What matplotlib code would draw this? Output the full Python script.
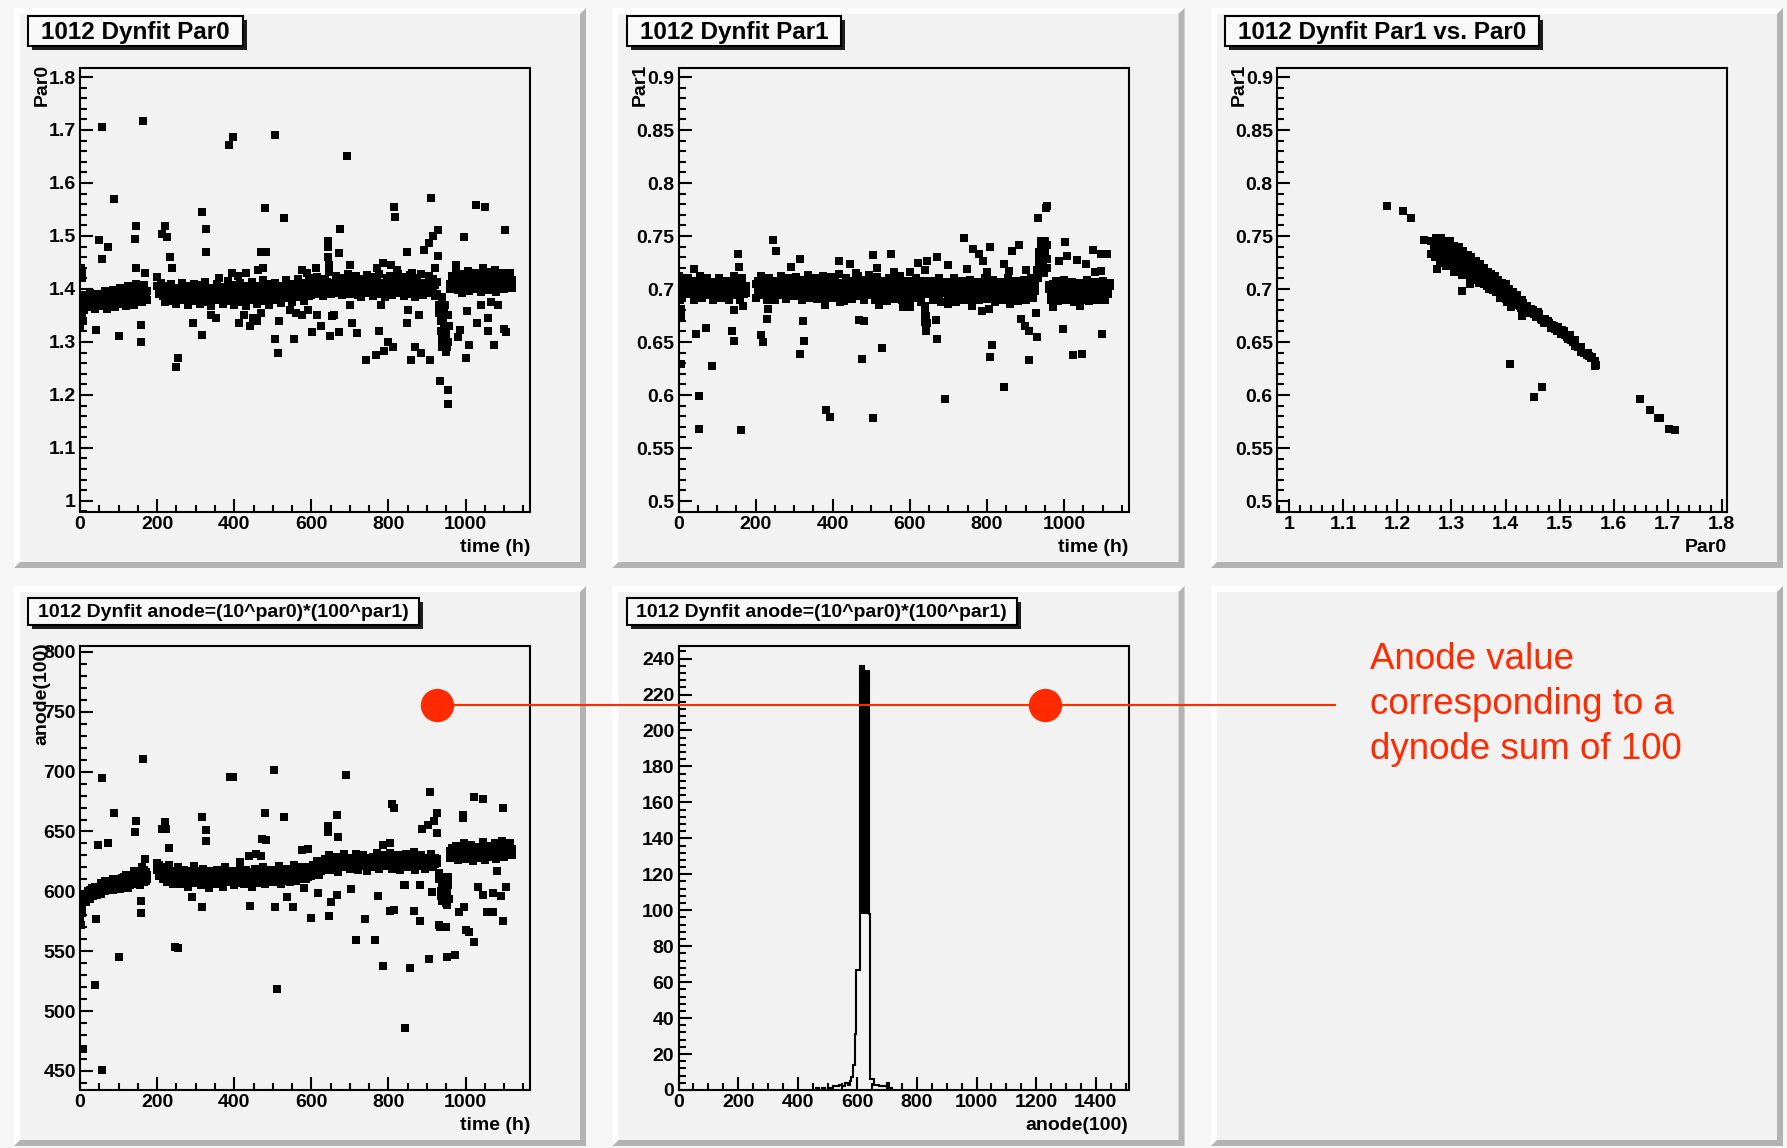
import numpy as np
import matplotlib
matplotlib.use("Agg")
import matplotlib.pyplot as plt
from matplotlib.patches import Rectangle, Polygon
from matplotlib.lines import Line2D
from matplotlib.ticker import MultipleLocator

# ------------------------------------------------------------------ data
# measurement times of the dense band (h) shared by the three time plots
hours_band = [
    0, 5, 10, 15, 20, 25, 30, 35, 40, 45,
    50, 55, 60, 65, 70, 75, 80, 85, 90, 95,
    100, 105, 110, 115, 120, 125, 130, 135, 140, 145,
    150, 155, 160, 165, 170, 175,
    200, 205, 210, 215, 220, 225, 230, 235, 240, 245,
    250, 255, 260, 265, 270, 275, 280, 285, 290, 295,
    300, 305, 310, 315, 320, 325, 330, 335, 340, 345,
    350, 355, 360, 365, 370, 375, 380, 385, 390, 395,
    400, 405, 410, 415, 420, 425, 430, 435, 440, 445,
    450, 455, 460, 465, 470, 475, 480, 485, 490, 495,
    500, 505, 510, 515, 520, 525, 530, 535, 540, 545,
    550, 555, 560, 565, 570, 575, 580, 585, 590, 595,
    600, 605, 610, 615, 620, 625, 630, 635, 640, 645,
    650, 655, 660, 665, 670, 675, 680, 685, 690, 695,
    700, 705, 710, 715, 720, 725, 730, 735, 740, 745,
    750, 755, 760, 765, 770, 775, 780, 785, 790, 795,
    800, 805, 810, 815, 820, 825, 830, 835, 840, 845,
    850, 855, 860, 865, 870, 875, 880, 885, 890, 895,
    900, 905, 910, 915, 920, 925, 930, 935, 940, 945,
    950, 955, 960, 965, 970, 975, 980, 985, 990, 995,
    1000, 1005, 1010, 1015, 1020, 1025, 1030, 1035, 1040, 1045,
    1050, 1055, 1060, 1065, 1070, 1075, 1080, 1085, 1090, 1095,
    1100, 1105, 1110, 1115, 1120]

# two fits per time slot (two channels of the band)
par0_band = [
    1.345, 1.42, 1.36, 1.385, 1.365, 1.392, 1.372, 1.38, 1.362, 1.39,
    1.368, 1.386, 1.372, 1.396, 1.362, 1.382, 1.376, 1.398, 1.366, 1.388,
    1.372, 1.402, 1.376, 1.39, 1.368, 1.405, 1.38, 1.396, 1.37, 1.41,
    1.385, 1.40, 1.375, 1.408, 1.38, 1.396,
    1.422, 1.398, 1.412, 1.40, 1.376, 1.405, 1.385, 1.41, 1.378, 1.395,
    1.372, 1.402, 1.39, 1.412, 1.38, 1.398, 1.37, 1.405, 1.388, 1.41,
    1.378, 1.398, 1.372, 1.408, 1.385, 1.414, 1.376, 1.396, 1.368, 1.402,
    1.386, 1.41, 1.38, 1.396, 1.372, 1.404, 1.39, 1.415, 1.378, 1.40,
    1.37, 1.408, 1.386, 1.412, 1.376, 1.398, 1.368, 1.405, 1.39, 1.414,
    1.38, 1.398, 1.372, 1.406, 1.388, 1.416, 1.378, 1.40, 1.37, 1.41,
    1.385, 1.412, 1.38, 1.398, 1.374, 1.405, 1.392, 1.416, 1.382, 1.402,
    1.376, 1.41, 1.39, 1.418, 1.384, 1.404, 1.378, 1.412, 1.394, 1.42,
    1.388, 1.415, 1.398, 1.422, 1.39, 1.41, 1.386, 1.418, 1.40, 1.432,
    1.39, 1.412, 1.398, 1.425, 1.392, 1.415, 1.388, 1.42, 1.40, 1.428,
    1.39, 1.414, 1.396, 1.424, 1.388, 1.41, 1.384, 1.418, 1.40, 1.426,
    1.392, 1.416, 1.386, 1.422, 1.398, 1.428, 1.39, 1.412, 1.384, 1.42,
    1.395, 1.424, 1.388, 1.414, 1.40, 1.428, 1.392, 1.418, 1.386, 1.422,
    1.398, 1.426, 1.39, 1.415, 1.384, 1.42, 1.396, 1.428, 1.388, 1.412,
    1.40, 1.424, 1.392, 1.418, 1.386, 1.414, 1.37, 1.34, 1.305, 1.33,
    1.295, 1.35, 1.40, 1.425, 1.405, 1.432, 1.398, 1.418, 1.392, 1.428,
    1.406, 1.434, 1.396, 1.42, 1.41, 1.43, 1.40, 1.424, 1.394, 1.416,
    1.404, 1.432, 1.398, 1.426, 1.41, 1.435, 1.395, 1.42, 1.405, 1.43,
    1.40, 1.425, 1.41, 1.43, 1.402]
par0_band2 = [
    1.385, 1.368, 1.388, 1.37, 1.384, 1.366, 1.386, 1.372, 1.382, 1.368,
    1.388, 1.372, 1.386, 1.374, 1.39, 1.37, 1.388, 1.376, 1.384, 1.372,
    1.392, 1.378, 1.394, 1.38, 1.39, 1.376, 1.396, 1.382, 1.392, 1.378,
    1.396, 1.382, 1.398, 1.384, 1.394, 1.38,
    1.405, 1.39, 1.402, 1.386, 1.396, 1.382, 1.398, 1.388, 1.40, 1.384,
    1.396, 1.38, 1.40, 1.386, 1.398, 1.382, 1.394, 1.384, 1.40, 1.38,
    1.398, 1.384, 1.396, 1.38, 1.40, 1.386, 1.394, 1.382, 1.398, 1.384,
    1.396, 1.382, 1.40, 1.384, 1.398, 1.38, 1.402, 1.386, 1.396, 1.382,
    1.40, 1.384, 1.396, 1.382, 1.398, 1.386, 1.40, 1.38, 1.402, 1.384,
    1.396, 1.382, 1.40, 1.386, 1.398, 1.384, 1.402, 1.38, 1.398, 1.386,
    1.398, 1.384, 1.402, 1.386, 1.396, 1.382, 1.40, 1.388, 1.398, 1.384,
    1.40, 1.386, 1.404, 1.388, 1.398, 1.384, 1.402, 1.39, 1.404, 1.386,
    1.41, 1.396, 1.412, 1.398, 1.408, 1.394, 1.41, 1.40, 1.414, 1.398,
    1.412, 1.398, 1.41, 1.396, 1.414, 1.40, 1.412, 1.396, 1.41, 1.398,
    1.41, 1.396, 1.412, 1.40, 1.408, 1.394, 1.412, 1.398, 1.41, 1.396,
    1.412, 1.398, 1.41, 1.394, 1.414, 1.40, 1.41, 1.396, 1.412, 1.40,
    1.41, 1.396, 1.414, 1.40, 1.412, 1.398, 1.41, 1.394, 1.414, 1.40,
    1.412, 1.396, 1.41, 1.40, 1.414, 1.398, 1.41, 1.396, 1.412, 1.40,
    1.41, 1.398, 1.412, 1.396, 1.408, 1.39, 1.355, 1.32, 1.29, 1.36,
    1.32, 1.30, 1.41, 1.402, 1.418, 1.404, 1.416, 1.40, 1.418, 1.406,
    1.418, 1.402, 1.42, 1.406, 1.416, 1.40, 1.42, 1.404, 1.418, 1.402,
    1.42, 1.404, 1.416, 1.40, 1.422, 1.406, 1.418, 1.402, 1.42, 1.404,
    1.418, 1.402, 1.42, 1.405, 1.416]

par1_band = [
    0.70, 0.71, 0.692, 0.706, 0.695, 0.71, 0.698, 0.704, 0.69, 0.708,
    0.696, 0.712, 0.692, 0.702, 0.698, 0.71, 0.694, 0.706, 0.69, 0.704,
    0.698, 0.71, 0.692, 0.705, 0.696, 0.708, 0.69, 0.702, 0.694, 0.712,
    0.698, 0.706, 0.69, 0.71, 0.695, 0.703,
    0.692, 0.708, 0.698, 0.712, 0.694, 0.704, 0.69, 0.71, 0.696, 0.706,
    0.69, 0.708, 0.698, 0.712, 0.694, 0.703, 0.691, 0.71, 0.699, 0.705,
    0.693, 0.711, 0.697, 0.706, 0.69, 0.709, 0.695, 0.713, 0.692, 0.704,
    0.698, 0.71, 0.691, 0.707, 0.695, 0.712, 0.69, 0.704, 0.697, 0.711,
    0.692, 0.709, 0.698, 0.714, 0.694, 0.705, 0.689, 0.71, 0.696, 0.707,
    0.691, 0.708, 0.697, 0.712, 0.693, 0.704, 0.69, 0.709, 0.698, 0.713,
    0.694, 0.706, 0.69, 0.711, 0.697, 0.708, 0.692, 0.703, 0.689, 0.71,
    0.695, 0.709, 0.691, 0.705, 0.698, 0.712, 0.69, 0.704, 0.694, 0.708,
    0.69, 0.706, 0.696, 0.71, 0.692, 0.703, 0.688, 0.708, 0.684, 0.695,
    0.696, 0.708, 0.69, 0.704, 0.694, 0.71, 0.688, 0.703, 0.697, 0.707,
    0.69, 0.705, 0.695, 0.71, 0.688, 0.702, 0.693, 0.708, 0.69, 0.704,
    0.696, 0.709, 0.689, 0.703, 0.694, 0.707, 0.69, 0.705, 0.697, 0.71,
    0.691, 0.704, 0.695, 0.709, 0.688, 0.703, 0.693, 0.707, 0.69, 0.705,
    0.697, 0.71, 0.69, 0.704, 0.694, 0.708, 0.689, 0.703, 0.696, 0.709,
    0.69, 0.705, 0.695, 0.71, 0.692, 0.706, 0.712, 0.725, 0.738, 0.73,
    0.745, 0.72, 0.70, 0.69, 0.705, 0.694, 0.708, 0.689, 0.703, 0.697,
    0.709, 0.69, 0.704, 0.695, 0.707, 0.688, 0.702, 0.693, 0.706, 0.69,
    0.704, 0.696, 0.709, 0.689, 0.703, 0.694, 0.707, 0.69, 0.705, 0.697,
    0.708, 0.69, 0.703, 0.695, 0.706]
par1_band2 = [
    0.705, 0.697, 0.707, 0.698, 0.704, 0.696, 0.706, 0.699, 0.703, 0.697,
    0.704, 0.697, 0.706, 0.698, 0.703, 0.696, 0.705, 0.699, 0.707, 0.697,
    0.705, 0.698, 0.703, 0.696, 0.706, 0.699, 0.704, 0.697, 0.706, 0.698,
    0.704, 0.697, 0.706, 0.698, 0.703, 0.696,
    0.705, 0.697, 0.706, 0.699, 0.704, 0.696, 0.707, 0.698, 0.703, 0.697,
    0.704, 0.698, 0.706, 0.697, 0.705, 0.696, 0.707, 0.699, 0.703, 0.697,
    0.705, 0.698, 0.704, 0.697, 0.706, 0.699, 0.703, 0.696, 0.707, 0.698,
    0.704, 0.697, 0.706, 0.698, 0.705, 0.696, 0.704, 0.699, 0.706, 0.697,
    0.705, 0.698, 0.703, 0.697, 0.706, 0.699, 0.704, 0.696, 0.705, 0.698,
    0.706, 0.697, 0.704, 0.698, 0.705, 0.696, 0.707, 0.699, 0.703, 0.697,
    0.704, 0.698, 0.706, 0.697, 0.705, 0.699, 0.703, 0.696, 0.706, 0.698,
    0.705, 0.697, 0.704, 0.698, 0.706, 0.696, 0.705, 0.699, 0.703, 0.697,
    0.704, 0.696, 0.705, 0.697, 0.703, 0.695, 0.706, 0.698, 0.676, 0.668,
    0.703, 0.696, 0.705, 0.697, 0.704, 0.695, 0.706, 0.698, 0.703, 0.696,
    0.704, 0.697, 0.703, 0.695, 0.705, 0.698, 0.704, 0.696, 0.703, 0.697,
    0.705, 0.696, 0.704, 0.697, 0.703, 0.695, 0.706, 0.698, 0.704, 0.696,
    0.703, 0.697, 0.705, 0.696, 0.704, 0.698, 0.703, 0.695, 0.705, 0.697,
    0.704, 0.696, 0.703, 0.697, 0.705, 0.695, 0.704, 0.698, 0.703, 0.696,
    0.705, 0.697, 0.704, 0.696, 0.703, 0.698, 0.718, 0.73, 0.744, 0.722,
    0.735, 0.728, 0.704, 0.697, 0.703, 0.695, 0.705, 0.698, 0.704, 0.696,
    0.703, 0.697, 0.705, 0.696, 0.704, 0.698, 0.703, 0.695, 0.705, 0.697,
    0.704, 0.696, 0.703, 0.697, 0.705, 0.695, 0.704, 0.698, 0.703, 0.696,
    0.705, 0.697, 0.704, 0.696, 0.703]

anode_band = [
    578, 592, 598, 591, 600, 594, 603, 596, 601, 597,
    604, 598, 606, 600, 609, 602, 607, 601, 610, 604,
    608, 602, 611, 605, 614, 603, 612, 607, 617, 606,
    613, 605, 620, 608, 616, 610,
    624, 613, 620, 610, 617, 608, 622, 612, 606, 616,
    610, 620, 606, 614, 618, 609, 604, 616, 611, 621,
    607, 615, 612, 605, 619, 609, 614, 603, 617, 610,
    606, 618, 611, 614, 604, 620, 608, 613, 610, 617,
    605, 615, 609, 621, 612, 606, 618, 610, 614, 604,
    612, 619, 607, 615, 610, 620, 606, 616, 611, 613,
    608, 617, 612, 621, 606, 614, 610, 619, 613, 608,
    615, 622, 609, 618, 612, 620, 614, 610, 619, 616,
    613, 622, 617, 625, 614, 621, 618, 627, 620, 630,
    618, 626, 621, 629, 616, 624, 620, 631, 622, 627,
    619, 628, 623, 631, 618, 625, 621, 630, 624, 617,
    626, 620, 629, 622, 632, 619, 627, 623, 630, 621,
    625, 632, 619, 627, 622, 630, 618, 626, 623, 631,
    620, 628, 624, 633, 618, 626, 621, 630, 625, 619,
    627, 622, 631, 620, 628, 624, 615, 600, 592, 610,
    590, 605, 628, 636, 630, 638, 626, 634, 629, 640,
    627, 635, 631, 639, 625, 633, 628, 637, 630, 641,
    626, 634, 629, 638, 632, 640, 627, 636, 631, 642,
    629, 637, 633, 640, 630]
anode_band2 = [
    586, 582, 593, 597, 596, 601, 598, 600, 604, 600,
    600, 607, 603, 609, 601, 606, 604, 610, 603, 608,
    604, 610, 606, 612, 608, 614, 605, 611, 609, 615,
    607, 616, 611, 618, 609, 614,
    618, 622, 614, 619, 612, 620, 610, 617, 613, 609,
    616, 610, 618, 612, 609, 615, 613, 610, 617, 608,
    613, 609, 617, 611, 608, 615, 610, 616, 609, 613,
    614, 609, 615, 607, 613, 610, 616, 609, 615, 611,
    612, 608, 616, 610, 607, 614, 611, 616, 608, 613,
    609, 614, 612, 610, 616, 608, 613, 610, 614, 618,
    614, 610, 616, 611, 613, 618, 609, 614, 610, 616,
    611, 616, 614, 612, 617, 610, 618, 614, 612, 620,
    618, 614, 620, 616, 621, 617, 622, 619, 624, 621,
    622, 620, 625, 623, 627, 621, 626, 624, 627, 623,
    624, 622, 627, 625, 623, 628, 626, 622, 628, 624,
    623, 627, 625, 628, 624, 626, 622, 628, 625, 627,
    628, 623, 626, 624, 628, 622, 627, 625, 628, 624,
    626, 623, 628, 625, 627, 622, 628, 624, 627, 624,
    624, 628, 625, 626, 623, 627, 610, 596, 605, 598,
    600, 612, 634, 630, 636, 631, 634, 629, 636, 632,
    633, 629, 636, 632, 635, 630, 634, 631, 636, 633,
    633, 630, 636, 632, 635, 631, 637, 633, 636, 634,
    634, 631, 636, 632, 635]

# scattered points (off the band) for Par0 vs time
par0_out_t = [1, 2, 3, 4, 6, 7, 8,
              56, 163, 89, 48, 72, 56, 144, 142, 146, 168, 42, 102, 158, 158,
              213, 225, 221, 233, 238, 248, 254, 317, 327, 327, 292, 317,
              386, 396, 506, 480, 530, 470, 483, 506, 516, 514, 554,
              693, 673, 671, 644, 644, 642, 646, 601, 624, 648, 671, 653, 706, 718,
              741, 767, 776, 789, 787, 807, 814, 817, 800, 812, 847, 859, 868, 847, 884, 908,
              891, 904, 916, 928, 911, 928, 934, 955, 955, 950, 985, 980, 975, 997, 1003, 1010, 1000,
              1027, 1050, 1030, 1059, 1074, 1059, 1102, 1099, 1106,
              932, 936, 938, 941, 943, 946, 948, 951, 953, 957,
              340, 352, 412, 425, 440, 448, 460, 470, 545, 560, 575, 590, 615, 660, 700, 780,
              850, 880, 1040, 1065, 1085,
              360, 395, 410, 430, 462, 474, 575, 588, 612, 700, 770, 822, 862, 920, 1045]
par0_out_v = [1.33, 1.36, 1.44, 1.35, 1.43, 1.38, 1.34,
              1.706, 1.717, 1.569, 1.492, 1.48, 1.457, 1.518, 1.494, 1.44, 1.431, 1.323, 1.311, 1.332, 1.30,
              1.503, 1.498, 1.518, 1.46, 1.44, 1.253, 1.27, 1.546, 1.514, 1.47, 1.335, 1.314,
              1.672, 1.686, 1.69, 1.553, 1.534, 1.47, 1.47, 1.306, 1.34, 1.279, 1.305,
              1.651, 1.514, 1.468, 1.49, 1.479, 1.46, 1.445, 1.318, 1.33, 1.312, 1.318, 1.349, 1.336, 1.316,
              1.266, 1.275, 1.32, 1.282, 1.449, 1.445, 1.555, 1.535, 1.30, 1.29, 1.47, 1.265, 1.29, 1.336, 1.279, 1.266,
              1.473, 1.487, 1.50, 1.512, 1.571, 1.462, 1.227, 1.21, 1.183, 1.281, 1.323, 1.309, 1.445, 1.498, 1.359, 1.294, 1.27,
              1.558, 1.554, 1.336, 1.32, 1.294, 1.345, 1.512, 1.325, 1.318,
              1.36, 1.32, 1.385, 1.34, 1.30, 1.37, 1.31, 1.35, 1.29, 1.33,
              1.35, 1.345, 1.335, 1.35, 1.33, 1.345, 1.34, 1.355, 1.36, 1.355, 1.35, 1.36, 1.35, 1.35, 1.37, 1.37,
              1.36, 1.35, 1.37, 1.375, 1.37,
              1.42, 1.43, 1.425, 1.43, 1.435, 1.44, 1.435, 1.43, 1.44, 1.445, 1.44, 1.435, 1.43, 1.44, 1.44]

# scattered points for Par1 vs time
par1_out_t = [7, 7, 7, 3, 2, 39, 45, 71, 54, 54, 88, 140, 145, 155, 157, 143, 167, 162,
              213, 220, 230, 233, 245, 253, 292, 314, 314, 324, 326, 383, 393, 415, 445,
              467, 482, 477, 504, 514, 504, 527, 552, 581, 600, 620, 644, 639, 641, 642, 643,
              670, 670, 668, 691, 700, 740, 749, 764, 779, 789, 809, 787, 804, 809, 814, 844,
              844, 858, 866, 883, 887, 898, 908, 929, 908, 928, 933, 953, 956, 972, 987, 1002,
              1007, 997, 1022, 1047, 1034, 1056, 1074, 1096, 1111, 1098, 1096,
              932, 935, 938, 941, 943, 946, 948, 951, 953, 956,
              380, 420, 460, 520, 560, 600, 640, 700, 760, 800, 860, 900, 1040, 1080]
par1_out_v = [0.681, 0.674, 0.629, 0.69, 0.712, 0.719, 0.658, 0.663, 0.599, 0.568, 0.627, 0.66, 0.651,
              0.733, 0.721, 0.68, 0.684, 0.567,
              0.657, 0.65, 0.672, 0.681, 0.746, 0.736, 0.721, 0.728, 0.639, 0.67, 0.651, 0.586, 0.579,
              0.726, 0.724,
              0.671, 0.67, 0.634, 0.732, 0.72, 0.578, 0.644, 0.733, 0.683, 0.683, 0.725, 0.726, 0.669,
              0.664, 0.675, 0.66,
              0.73, 0.653, 0.671, 0.596, 0.723, 0.748, 0.719, 0.738, 0.733, 0.726, 0.74, 0.679, 0.681,
              0.636, 0.647, 0.608,
              0.724, 0.717, 0.736, 0.742, 0.672, 0.665, 0.66, 0.655, 0.633, 0.677, 0.767, 0.776, 0.778,
              0.683, 0.726, 0.744,
              0.731, 0.662, 0.638, 0.639, 0.727, 0.724, 0.737, 0.733, 0.733, 0.658, 0.717,
              0.71, 0.735, 0.722, 0.745, 0.73, 0.74, 0.715, 0.738, 0.728, 0.742,
              0.685, 0.688, 0.715, 0.685, 0.716, 0.716, 0.718, 0.686, 0.684, 0.716, 0.686, 0.718,
              0.684, 0.716]

# Par1 vs Par0 correlation
corr_par0 = [1.262, 1.268, 1.272, 1.278, 1.283, 1.285, 1.29, 1.293, 1.296, 1.30,
             1.302, 1.305, 1.308, 1.31, 1.313, 1.316, 1.318, 1.32, 1.323, 1.326,
             1.328, 1.331, 1.334, 1.336, 1.339, 1.342, 1.344, 1.347, 1.35, 1.352,
             1.355, 1.358, 1.36, 1.363, 1.366, 1.368, 1.371, 1.374, 1.377, 1.38,
             1.383, 1.386, 1.389, 1.392, 1.395, 1.398, 1.401, 1.404, 1.407, 1.41,
             1.413, 1.416, 1.42, 1.424, 1.428, 1.432, 1.436, 1.44, 1.445, 1.45,
             1.456, 1.462, 1.468, 1.474, 1.48, 1.486, 1.492, 1.498, 1.503, 1.508,
             1.513, 1.518, 1.522, 1.528, 1.545, 1.55, 1.555, 1.565, 1.566,
             1.181, 1.21, 1.225, 1.25, 1.262, 1.274, 1.279, 1.305, 1.319, 1.335,
             1.408, 1.453, 1.467, 1.649, 1.668, 1.683, 1.686, 1.703, 1.713,
             1.43, 1.411, 1.529, 1.55, 1.567, 1.54, 1.56]
corr_par1 = [0.745, 0.738, 0.748, 0.74, 0.733, 0.745, 0.737, 0.728, 0.742, 0.733,
             0.724, 0.738, 0.729, 0.72, 0.734, 0.726, 0.717, 0.731, 0.722, 0.714,
             0.728, 0.72, 0.712, 0.726, 0.717, 0.709, 0.722, 0.714, 0.706, 0.719,
             0.711, 0.716, 0.705, 0.713, 0.703, 0.71, 0.701, 0.708, 0.699, 0.706,
             0.697, 0.704, 0.695, 0.702, 0.693, 0.70, 0.691, 0.698, 0.689, 0.695,
             0.687, 0.693, 0.685, 0.69, 0.682, 0.687, 0.68, 0.684, 0.677, 0.68,
             0.674, 0.676, 0.671, 0.672, 0.668, 0.666, 0.662, 0.664, 0.658, 0.66,
             0.655, 0.656, 0.652, 0.646, 0.64, 0.638, 0.637, 0.632, 0.627,
             0.778, 0.774, 0.767, 0.746, 0.733, 0.719, 0.725, 0.716, 0.698, 0.705,
             0.629, 0.598, 0.608, 0.596, 0.586, 0.578, 0.578, 0.568, 0.567,
             0.675, 0.683, 0.652, 0.64, 0.628, 0.641, 0.636]
corr2_par0 = [1.27, 1.275, 1.28, 1.282, 1.287, 1.29, 1.295, 1.298, 1.30, 1.304,
              1.307, 1.31, 1.314, 1.317, 1.32, 1.322, 1.326, 1.33, 1.333, 1.337,
              1.34, 1.343, 1.346, 1.35, 1.353, 1.357, 1.36, 1.364, 1.367, 1.37,
              1.373, 1.376, 1.38, 1.384, 1.387, 1.39, 1.393, 1.397, 1.40, 1.403,
              1.406, 1.41, 1.414, 1.418, 1.422, 1.426, 1.43, 1.435, 1.44, 1.447,
              1.452, 1.46, 1.465, 1.472, 1.478, 1.485, 1.49, 1.496, 1.505, 1.51,
              1.516, 1.52, 1.525, 1.535, 1.54, 1.552, 1.558]
corr2_par1 = [0.73, 0.745, 0.748, 0.728, 0.742, 0.722, 0.735, 0.745, 0.726, 0.741,
              0.718, 0.733, 0.74, 0.722, 0.713, 0.736, 0.725, 0.732, 0.716, 0.73,
              0.722, 0.71, 0.726, 0.716, 0.724, 0.706, 0.72, 0.71, 0.716, 0.70,
              0.714, 0.705, 0.712, 0.70, 0.709, 0.692, 0.706, 0.695, 0.705, 0.688,
              0.70, 0.69, 0.697, 0.688, 0.694, 0.684, 0.69, 0.683, 0.678, 0.681,
              0.676, 0.678, 0.672, 0.668, 0.67, 0.663, 0.665, 0.66, 0.661, 0.657,
              0.653, 0.657, 0.65, 0.645, 0.645, 0.64, 0.635]

# scattered points for anode(100) vs time
anode_out_t = [1, 2, 3, 4, 6, 7,
               56, 163, 89, 102, 39, 56, 8, 42, 47, 72, 143, 146, 158, 158, 168, 212, 222, 220, 232,
               247, 255, 291, 316, 326, 326, 316, 388, 398, 415, 439, 441, 457, 469, 479, 471, 483,
               504, 512, 528, 506, 538, 553, 577, 592, 582, 599, 617, 642, 642, 647, 652, 666, 668,
               666, 691, 703, 716, 738, 765, 773, 787, 785, 805, 810, 815, 805, 815, 839, 844, 844,
               857, 866, 883, 882, 888, 903, 918, 926, 908, 926, 906, 913, 932, 934, 953, 972, 950,
               982, 997, 992, 994, 1000, 1010, 1022, 1021, 1046, 1031, 1046, 1056, 1071, 1081, 1071,
               1093, 1096, 1096, 1106,
               932, 935, 938, 941, 943, 946, 948, 951, 953, 956]
anode_out_v = [580, 586, 572, 593, 584, 597,
               694.8, 710.8, 665.5, 545.5, 521.5, 451, 468.6, 577, 638.8, 640, 649.5, 658.8, 591.7,
               581.5, 627, 652, 652, 657.8, 636,
               553.8, 552.6, 595.4, 661.8, 651, 641.8, 587, 695.7, 695.7, 624.6, 629.5, 587.7, 631,
               629.5, 665.5, 644, 642.5,
               701, 518, 661.8, 586.5, 595.4, 587, 634.8, 635.4, 603, 577.8, 598.5, 654.8, 649.2,
               579.4, 590.8, 663.4, 645.5,
               597, 697, 601.8, 559.4, 577, 559.4, 596.3, 537.2, 638.8, 640, 672.6, 670, 583.4, 584,
               605.5, 605, 485.5,
               535.7, 583.4, 575.4, 605, 652, 655.6, 658.5, 665.5, 683.4, 649, 543.4, 599.4, 571.7,
               570, 545.5, 547, 570,
               583, 587, 663.4, 661, 567.7, 566, 557.8, 678.8, 677, 604, 597, 582.5, 582.5, 617, 598.8,
               596.3, 670, 574.8, 603.4,
               615, 598, 608, 592, 603, 595, 612, 589, 600, 594]

# anode(100) histogram
hist_edges = [462, 470, 480, 490, 500, 510, 520, 530, 540, 550,
              560, 570, 575, 580, 586, 592, 597, 609, 622, 640,
              643, 657, 674, 700, 706, 715]
hist_counts = [1, 0, 1, 0, 1, 1, 2, 2, 3, 2,
               4, 3, 5, 7, 14, 31, 67, 236, 233, 98,
               6, 3, 2, 4, 1]
# bins whose many narrow sub-bins render as a solid black column
sat_edges = [609, 622, 640]
sat_low = [98, 98]
sat_high = [236, 233]

# axis ticks
time_ticks = [0, 200, 400, 600, 800, 1000]
par0_ticks = [1, 1.1, 1.2, 1.3, 1.4, 1.5, 1.6, 1.7, 1.8]
par1_ticks = [0.5, 0.55, 0.6, 0.65, 0.7, 0.75, 0.8, 0.85, 0.9]
anode_ticks = [450, 500, 550, 600, 650, 700, 750, 800]
count_ticks = [0, 20, 40, 60, 80, 100, 120, 140, 160, 180, 200, 220, 240]
anodex_ticks = [0, 200, 400, 600, 800, 1000, 1200, 1400]

titles_top = ["1012 Dynfit Par0", "1012 Dynfit Par1", "1012 Dynfit Par1 vs. Par0"]
title_bottom = "1012 Dynfit anode=(10^par0)*(100^par1)"
note_lines = ["Anode value", "corresponding to a", "dynode sum of 100"]

# ------------------------------------------------------------------ style / layout
W, H, DPI = 1787, 1148, 100
CANVAS = "#f6f6f6"
PAD = "#f2f2f2"
SHADE = "#b3b3b3"
BOX = "#f9f9f9"
RED = "#ff2a00"
COLP, ROWP = 598.5, 578

plt.rcParams["font.family"] = ["Liberation Sans", "DejaVu Sans"]
plt.rcParams["font.weight"] = "bold"

fig = plt.figure(figsize=(W / DPI, H / DPI), dpi=DPI)
fig.patch.set_facecolor(CANVAS)


def R(x0, y0, x1, y1, **kw):
    p = Rectangle((x0 / W, 1 - y1 / H), (x1 - x0) / W, (y1 - y0) / H,
                  transform=fig.transFigure, **kw)
    fig.add_artist(p)
    return p


def P(pts, **kw):
    p = Polygon([(x / W, 1 - y / H) for x, y in pts], closed=True,
                transform=fig.transFigure, **kw)
    fig.add_artist(p)
    return p


def draw_pad(ox, oy):
    x0, x1, y0, y1 = ox + 14, ox + 586, oy + 8, oy + 568
    b = 6
    R(x0, y0, x1, y1, facecolor=PAD, edgecolor="none", zorder=-10)
    P([(x0, y0), (x1, y0), (x1 - b, y0 + b), (x0 + b, y0 + b), (x0 + b, y1 - b), (x0, y1)],
      facecolor="white", edgecolor="none", zorder=-9)
    P([(x1, y0), (x1, y1), (x0, y1), (x0 + b, y1 - b), (x1 - b, y1 - b), (x1 - b, y0 + b)],
      facecolor=SHADE, edgecolor="none", zorder=-9)


def fmt(v):
    return f"{v:g}"


def make_axes(ox, oy, xlim, ylim, xt, yt, xminor, yminor):
    ax = fig.add_axes([(ox + 80) / W, 1 - (oy + 512) / H, 450 / W, 444 / H])
    ax.set_facecolor(PAD)
    for s in ax.spines.values():
        s.set_linewidth(1.5)
        s.set_color("black")
    ax.set_xlim(*xlim)
    ax.set_ylim(*ylim)
    ax.set_xticks(xt)
    ax.set_xticklabels([fmt(v) for v in xt])
    ax.set_yticks(yt)
    ax.set_yticklabels([fmt(v) for v in yt])
    ax.xaxis.set_minor_locator(MultipleLocator(xminor))
    ax.yaxis.set_minor_locator(MultipleLocator(yminor))
    ax.tick_params(which="both", direction="in", top=False, right=False,
                   colors="black", width=1.5)
    ax.tick_params(which="major", length=9.5, labelsize=14, pad=3)
    ax.tick_params(which="minor", length=5)
    return ax


renderer = fig.canvas.get_renderer()


def title_box(ox, text, size, tx, y0, y1, padx):
    t = fig.text((ox + tx) / W, 1 - ((y0 + y1) / 2 + 1) / H, text, fontsize=size,
                 fontweight="bold", ha="left", va="center", zorder=6)
    bb = t.get_window_extent(renderer)
    bx0 = ox + tx - padx
    bx1 = bb.x1 + padx
    R(bx0 + 4, y0 + 4, bx1 + 4, y1 + 4, facecolor="#1e1e1e", edgecolor="none", zorder=4)
    R(bx0, y0, bx1, y1, facecolor=BOX, edgecolor="black", linewidth=1.5, zorder=5)


def labels(ox, oy, xlab, ylab):
    if ylab:
        fig.text((ox + 42) / W, 1 - (oy + 64) / H, ylab, rotation=90, fontsize=14,
                 ha="center", va="top", zorder=6)
    fig.text((ox + 530) / W, 1 - (oy + 547) / H, xlab, fontsize=14,
             ha="right", va="center", zorder=6)


MS = 6.0
pt_style = dict(linestyle="none", marker="s", markersize=MS, color="black",
                markeredgewidth=0)

for c in range(3):
    for r in range(2):
        draw_pad(c * COLP, r * ROWP)

XT = (0, 1167)

# panel 1 : Par0 vs time
ox, oy = 0, 0
ax1 = make_axes(ox, oy, XT, (0.979, 1.817), time_ticks, par0_ticks, 50, 0.02)
ax1.plot(hours_band, par0_band, **pt_style)
ax1.plot(hours_band, par0_band2, **pt_style)
ax1.plot(par0_out_t, par0_out_v, **pt_style)
title_box(ox, titles_top[0], 17.5, 41, 16, 46, 13)
labels(ox, oy, "time (h)", "Par0")

# panel 2 : Par1 vs time
ox, oy = COLP, 0
ax2 = make_axes(ox, oy, XT, (0.4897, 0.9085), time_ticks, par1_ticks, 50, 0.01)
ax2.plot(hours_band, par1_band, **pt_style)
ax2.plot(hours_band, par1_band2, **pt_style)
ax2.plot(par1_out_t, par1_out_v, **pt_style)
title_box(ox, titles_top[1], 17.5, 41, 16, 46, 13)
labels(ox, oy, "time (h)", "Par1")

# panel 3 : Par1 vs Par0
ox, oy = 2 * COLP, 0
ax3 = make_axes(ox, oy, (0.977, 1.810), (0.4897, 0.9085), par0_ticks, par1_ticks, 0.02, 0.01)
ax3.plot(corr_par0, corr_par1, **pt_style)
ax3.plot(corr2_par0, corr2_par1, **pt_style)
title_box(ox, titles_top[2], 17.5, 41, 16, 46, 13)
labels(ox, oy, "Par0", "Par1")

# panel 4 : anode vs time
ox, oy = 0, ROWP
ax4 = make_axes(ox, oy, XT, (434, 805), time_ticks, anode_ticks, 50, 10)
ax4.plot(hours_band, anode_band, **pt_style)
ax4.plot(hours_band, anode_band2, **pt_style)
ax4.plot(anode_out_t, anode_out_v, **pt_style)
title_box(ox, title_bottom, 14, 38, oy + 20, oy + 47, 10)
labels(ox, oy, "time (h)", "anode(100)")

# panel 5 : anode histogram
ox, oy = COLP, ROWP
ax5 = make_axes(ox, oy, (0, 1510), (0, 247), anodex_ticks, count_ticks, 50, 4)
ax5.stairs(hist_counts, hist_edges, color="black", linewidth=1.5, baseline=0)
sat_w = np.diff(sat_edges)
ax5.bar(sat_edges[:-1], np.array(sat_high) - np.array(sat_low), width=sat_w,
        bottom=sat_low, align="edge", color="black", linewidth=0)
title_box(ox, title_bottom, 14, 38, oy + 20, oy + 47, 10)
labels(ox, oy, "anode(100)", None)

# ------------------------------------------------------------------ red annotation
ly = 705
fig.add_artist(Line2D([437 / W, 1335 / W], [1 - ly / H, 1 - ly / H], color=RED,
                      linewidth=1.5, transform=fig.transFigure, zorder=20))
for dx in (437, 1045):
    fig.add_artist(Line2D([dx / W], [1 - ly / H], marker="o", markersize=24,
                          color=RED, markeredgewidth=0, linestyle="none",
                          transform=fig.transFigure, zorder=21))
for line, base in zip(note_lines, (669, 714, 759)):
    fig.text(1370 / W, 1 - base / H, line, fontsize=26.5, fontweight="normal",
             color=RED, ha="left", va="baseline", zorder=22)

fig.savefig("out.png", dpi=DPI, facecolor=fig.get_facecolor())
